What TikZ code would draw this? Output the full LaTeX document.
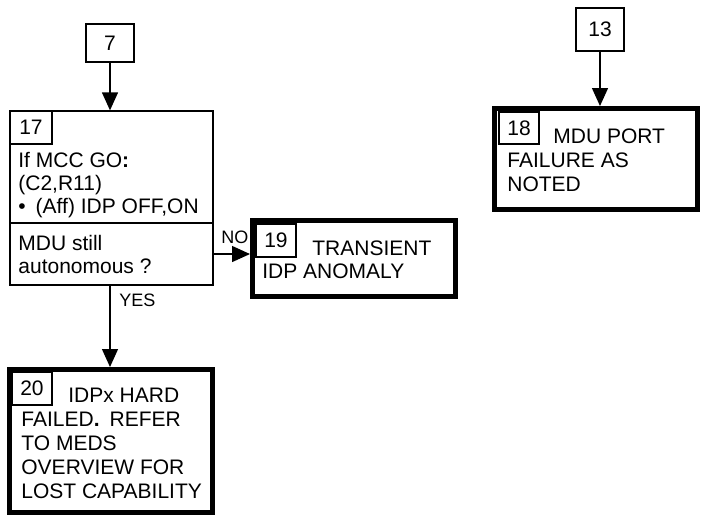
\documentclass[tikz,border=0pt]{standalone}
\usepackage{fontspec}
\setmainfont{Liberation Sans}
\usepackage{tikz}
\usetikzlibrary{arrows.meta}

\tikzset{
  thinbox/.style={draw,line width=0.65pt,inner sep=0pt},
  thickbox/.style={draw,line width=2.5pt,inner sep=0pt},
  numbox/.style={thinbox,minimum width=20pt,minimum height=16.5pt,font=\fontsize{10.5}{11.5}\selectfont},
  boxtext/.style={inner sep=0pt,align=left,anchor=base west,font=\fontsize{10.5}{12}\selectfont},
  smalltext/.style={inner sep=0pt,anchor=base west,font=\fontsize{9}{10}\selectfont},
  flow/.style={line width=0.65pt,-{Triangle[length=9pt,width=8pt]}}
}

\begin{document}
\begin{tikzpicture}[x=0.5pt,y={(0pt,-0.5pt)}]
		\useasboundingbox (0,0) rectangle (701,516);
		
		% Entry boxes
		\node[thinbox,minimum width=24pt,minimum height=19pt,font=\fontsize{10.5}{11.5}\selectfont] (b7) at (110,43) {7};
		\node[thinbox,minimum width=24pt,minimum height=21.5pt,font=\fontsize{10.5}{11.5}\selectfont] (b13) at (600,29.5) {13};
		
		% Step 17 (action part and question part)
		% (multi-line texts are placed by the baseline of their last line)
		\node[thinbox,minimum width=101.5pt,minimum height=56pt] (b17) at (111.5,167) {};
		\node[thinbox,minimum width=101.5pt,minimum height=31pt] (q17) at (111.5,254) {};
		\node[numbox,minimum width=21pt] (n17) at (31,127.5) {17};
		\node[boxtext,font=\fontsize{10.5}{11.5}\selectfont] (t17) at (18,213) {If MCC GO\textbf{:}\\(C2,R11)\\\textbullet\hspace{5pt}(Aff) IDP OFF,ON};
		\node[boxtext,font=\fontsize{10.5}{11.5}\selectfont] (tq17) at (18,273) {MDU still\\autonomous ?};
		
		% End boxes
		\node[thickbox,minimum width=101.5pt,minimum height=38pt] (b19) at (354,258.5) {};
		\node[numbox] (n19) at (276,240.5) {19};
		\node[boxtext,font=\fontsize{10.5}{11.5}\selectfont] (t19) at (262,278) {\hspace*{25pt}TRANSIENT\\IDP ANOMALY};
		
		\node[thickbox,minimum width=101.5pt,minimum height=71.5pt] (b20) at (111,441) {};
		\node[numbox] (n20) at (32,388.5) {20};
		\node[boxtext] (t20) at (21,498) {\hspace*{23.5pt}IDPx HARD\\FAILED\textbf{.}\hspace{5pt}REFER\\TO MEDS\\OVERVIEW FOR\\LOST CAPABILITY};
		
		\node[thickbox,minimum width=101.5pt,minimum height=50.5pt] (b18) at (596,159) {};
		\node[numbox,minimum height=16pt] (n18) at (519,128) {18};
		\node[boxtext] (t18) at (507,191) {\hspace*{23pt}MDU PORT\\FAILURE AS\\NOTED};
		
		% Connectors
		\draw[flow] (b7.south) -- (b7.south |- b17.north);
		\draw[flow] (b13.south) -- (b13.south |- b18.north);
		\draw[flow] (q17.east) -- (q17.east -| b19.west);
		\draw[flow] (b7.south |- q17.south) -- (b7.south |- b20.north);
		
		% Branch labels
		\node[smalltext] (lno) at (221,243) {NO};
		\node[smalltext] (lyes) at (119,306) {YES};
	\end{tikzpicture}
\end{document}
